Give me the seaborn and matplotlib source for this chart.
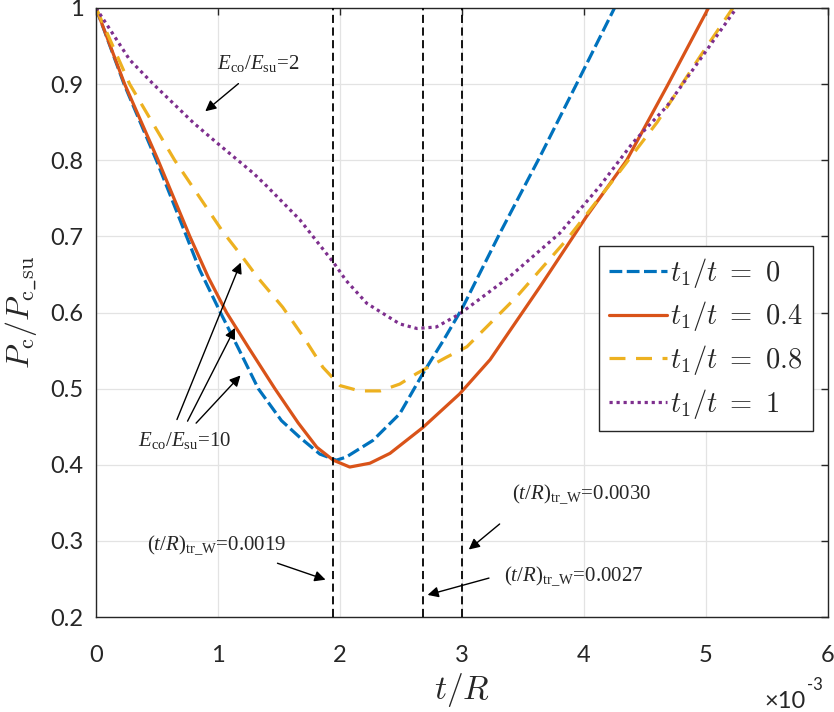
import matplotlib
matplotlib.use('Agg')
import matplotlib.pyplot as plt
import seaborn as sns
import pandas as pd
from matplotlib.font_manager import FontProperties

# t/R (x1e-3) and Pc/Pc_su
x_t0 = [0, 0.23, 0.5, 0.742, 0.85, 1.02, 1.17, 1.33, 1.52, 1.67, 1.835, 1.97, 2.05, 2.27, 2.49, 2.68, 2.85, 3.0, 3.31, 3.64, 3.97, 4.25, 4.35]
y_t0 = [1.0, 0.9, 0.798, 0.7, 0.656, 0.6, 0.552, 0.5, 0.458, 0.436, 0.414, 0.406, 0.41, 0.432, 0.467, 0.52, 0.564, 0.605, 0.704, 0.805, 0.91, 1.0, 1.03]

x_t04 = [0, 0.235, 0.509, 0.769, 0.921, 1.07, 1.25, 1.466, 1.657, 1.81, 1.945, 2.08, 2.245, 2.41, 2.68, 2.98, 3.23, 3.64, 4.02, 4.35, 4.68, 5.02, 5.1]
y_t04 = [1.0, 0.9, 0.8, 0.7, 0.646, 0.6, 0.554, 0.5, 0.455, 0.423, 0.406, 0.397, 0.402, 0.415, 0.449, 0.493, 0.538, 0.634, 0.726, 0.80, 0.897, 1.0, 1.02]

x_t08 = [0, 0.276, 0.645, 1.04, 1.20, 1.32, 1.53, 1.70, 1.86, 2.0, 2.16, 2.33, 2.49, 2.63, 2.87, 3.04, 3.45, 3.86, 4.24, 4.6, 4.95, 5.22, 5.3]
y_t08 = [1.0, 0.9, 0.8, 0.706, 0.673, 0.647, 0.607, 0.568, 0.528, 0.504, 0.497, 0.497, 0.506, 0.52, 0.541, 0.555, 0.621, 0.696, 0.774, 0.85, 0.936, 1.0, 1.02]

x_t1 = [0, 0.126, 0.276, 0.47, 0.80, 0.99, 1.29, 1.40, 1.67, 1.95, 2.05, 2.22, 2.49, 2.63, 2.79, 2.98, 3.39, 3.80, 4.13, 4.40, 4.68, 4.95, 5.25, 5.3]
y_t1 = [1.0, 0.969, 0.932, 0.90, 0.849, 0.823, 0.783, 0.766, 0.722, 0.665, 0.642, 0.612, 0.585, 0.579, 0.581, 0.598, 0.647, 0.704, 0.766, 0.823, 0.871, 0.932, 1.0, 1.01]

labels = [r'$t_1/t\ =\ 0$', r'$t_1/t\ =\ 0.4$', r'$t_1/t\ =\ 0.8$', r'$t_1/t\ =\ 1$']
colors = ['#0072BD', '#D95319', '#EDB120', '#7E2F8E']
styles = [(0, (4, 1.4)), '-', (0, (5, 3.3)), (0, (1, 1.2))]

vlines_x = [1.94, 2.68, 3.0]

sns.set_style('white')
plt.rcParams['mathtext.fontset'] = 'custom'
plt.rcParams['mathtext.rm'] = 'Liberation Serif'
plt.rcParams['mathtext.it'] = 'Liberation Serif:italic'
plt.rcParams['font.family'] = ['Lato', 'DejaVu Sans']

fig = plt.figure(figsize=(8.34, 7.12), dpi=100)
ax = fig.add_axes([96 / 834, 1 - 617 / 712, 732 / 834, 609 / 712])

ax.grid(True, color='#e3e3e3', lw=0.9, zorder=0)
ax.set_axisbelow(True)

series = [(x_t0, y_t0), (x_t04, y_t04), (x_t08, y_t08), (x_t1, y_t1)]
for (xs, ys), lab, c, ls in zip(series, labels, colors, styles):
    df = pd.DataFrame({'x': xs, 'y': ys})
    sns.lineplot(data=df, x='x', y='y', ax=ax, color=c, lw=2.3, linestyle=ls,
                 sort=False, estimator=None, label=lab)

for xv in vlines_x:
    ax.axvline(xv, color='black', lw=1.3, linestyle=(0, (4.5, 2.5)), zorder=3)

ax.set_xlim(0, 6)
ax.set_ylim(0.2, 1)
ax.set_xticks(range(7))
ax.set_yticks([0.2, 0.3, 0.4, 0.5, 0.6, 0.7, 0.8, 0.9, 1.0])
ax.set_yticklabels(['0.2', '0.3', '0.4', '0.5', '0.6', '0.7', '0.8', '0.9', '1'])
ax.tick_params(direction='in', length=5, width=1, colors='#262626', labelsize=17,
               top=True, right=True)
ax.tick_params(axis='x', pad=20)
ax.tick_params(axis='y', pad=9)
for s in ax.spines.values():
    s.set_color('#262626')
    s.set_linewidth(1)

ax.set_xlabel(r'$t/R$', fontsize=24, math_fontfamily='cm', labelpad=4)
ax.set_ylabel(r'$P_\mathrm{c}/P_\mathrm{c\_su}$', fontsize=23, math_fontfamily='cm', labelpad=8)

ax.text(0.969, -0.138, '×10', transform=ax.transAxes, ha='right', va='center', fontsize=17)
ax.text(0.993, -0.112, '-3', transform=ax.transAxes, ha='right', va='center', fontsize=12)

h, l = ax.get_legend_handles_labels()
leg = ax.legend(h, l, loc='upper right', bbox_to_anchor=(0.979, 0.609), borderaxespad=0,
                prop=FontProperties(size=20.5, math_fontfamily='cm'),
                frameon=True, fancybox=False, edgecolor='#262626', framealpha=1,
                handlelength=2.05, handletextpad=0.12, labelspacing=0.35, borderpad=0.33)
leg.get_frame().set_linewidth(1)

ann_font = dict(fontsize=15, family='Liberation Serif', math_fontfamily='custom')
arrow = dict(arrowstyle='-|>', color='black', lw=1, mutation_scale=16)

ax.text(1.33, 0.927, r'$E_\mathrm{co}/E_\mathrm{su}$=2', ha='center', va='center', **ann_font)
ax.annotate('', xy=(0.878, 0.862), xytext=(1.185, 0.903), arrowprops=arrow)

ax.text(0.73, 0.432, r'$E_\mathrm{co}/E_\mathrm{su}$=10', ha='center', va='center', **ann_font)
ax.annotate('', xy=(1.195, 0.669), xytext=(0.655, 0.456), arrowprops=arrow)
ax.annotate('', xy=(1.15, 0.583), xytext=(0.74, 0.454), arrowprops=arrow)
ax.annotate('', xy=(1.2, 0.52), xytext=(0.805, 0.452), arrowprops=arrow)

ax.text(0.99, 0.2945, r'$(t/R)_\mathrm{tr\_W}$=0.0019', ha='center', va='center', **ann_font)
ax.annotate('', xy=(1.903, 0.2478), xytext=(1.466, 0.2718), arrowprops=arrow)

ax.text(3.98, 0.361, r'$(t/R)_\mathrm{tr\_W}$=0.0030', ha='center', va='center', **ann_font)
ax.annotate('', xy=(3.038, 0.2863), xytext=(3.326, 0.3245), arrowprops=arrow)

ax.text(3.92, 0.253, r'$(t/R)_\mathrm{tr\_W}$=0.0027', ha='center', va='center', **ann_font)
ax.annotate('', xy=(2.696, 0.228), xytext=(3.243, 0.2521), arrowprops=arrow)

fig.savefig('out.png', dpi=100)
